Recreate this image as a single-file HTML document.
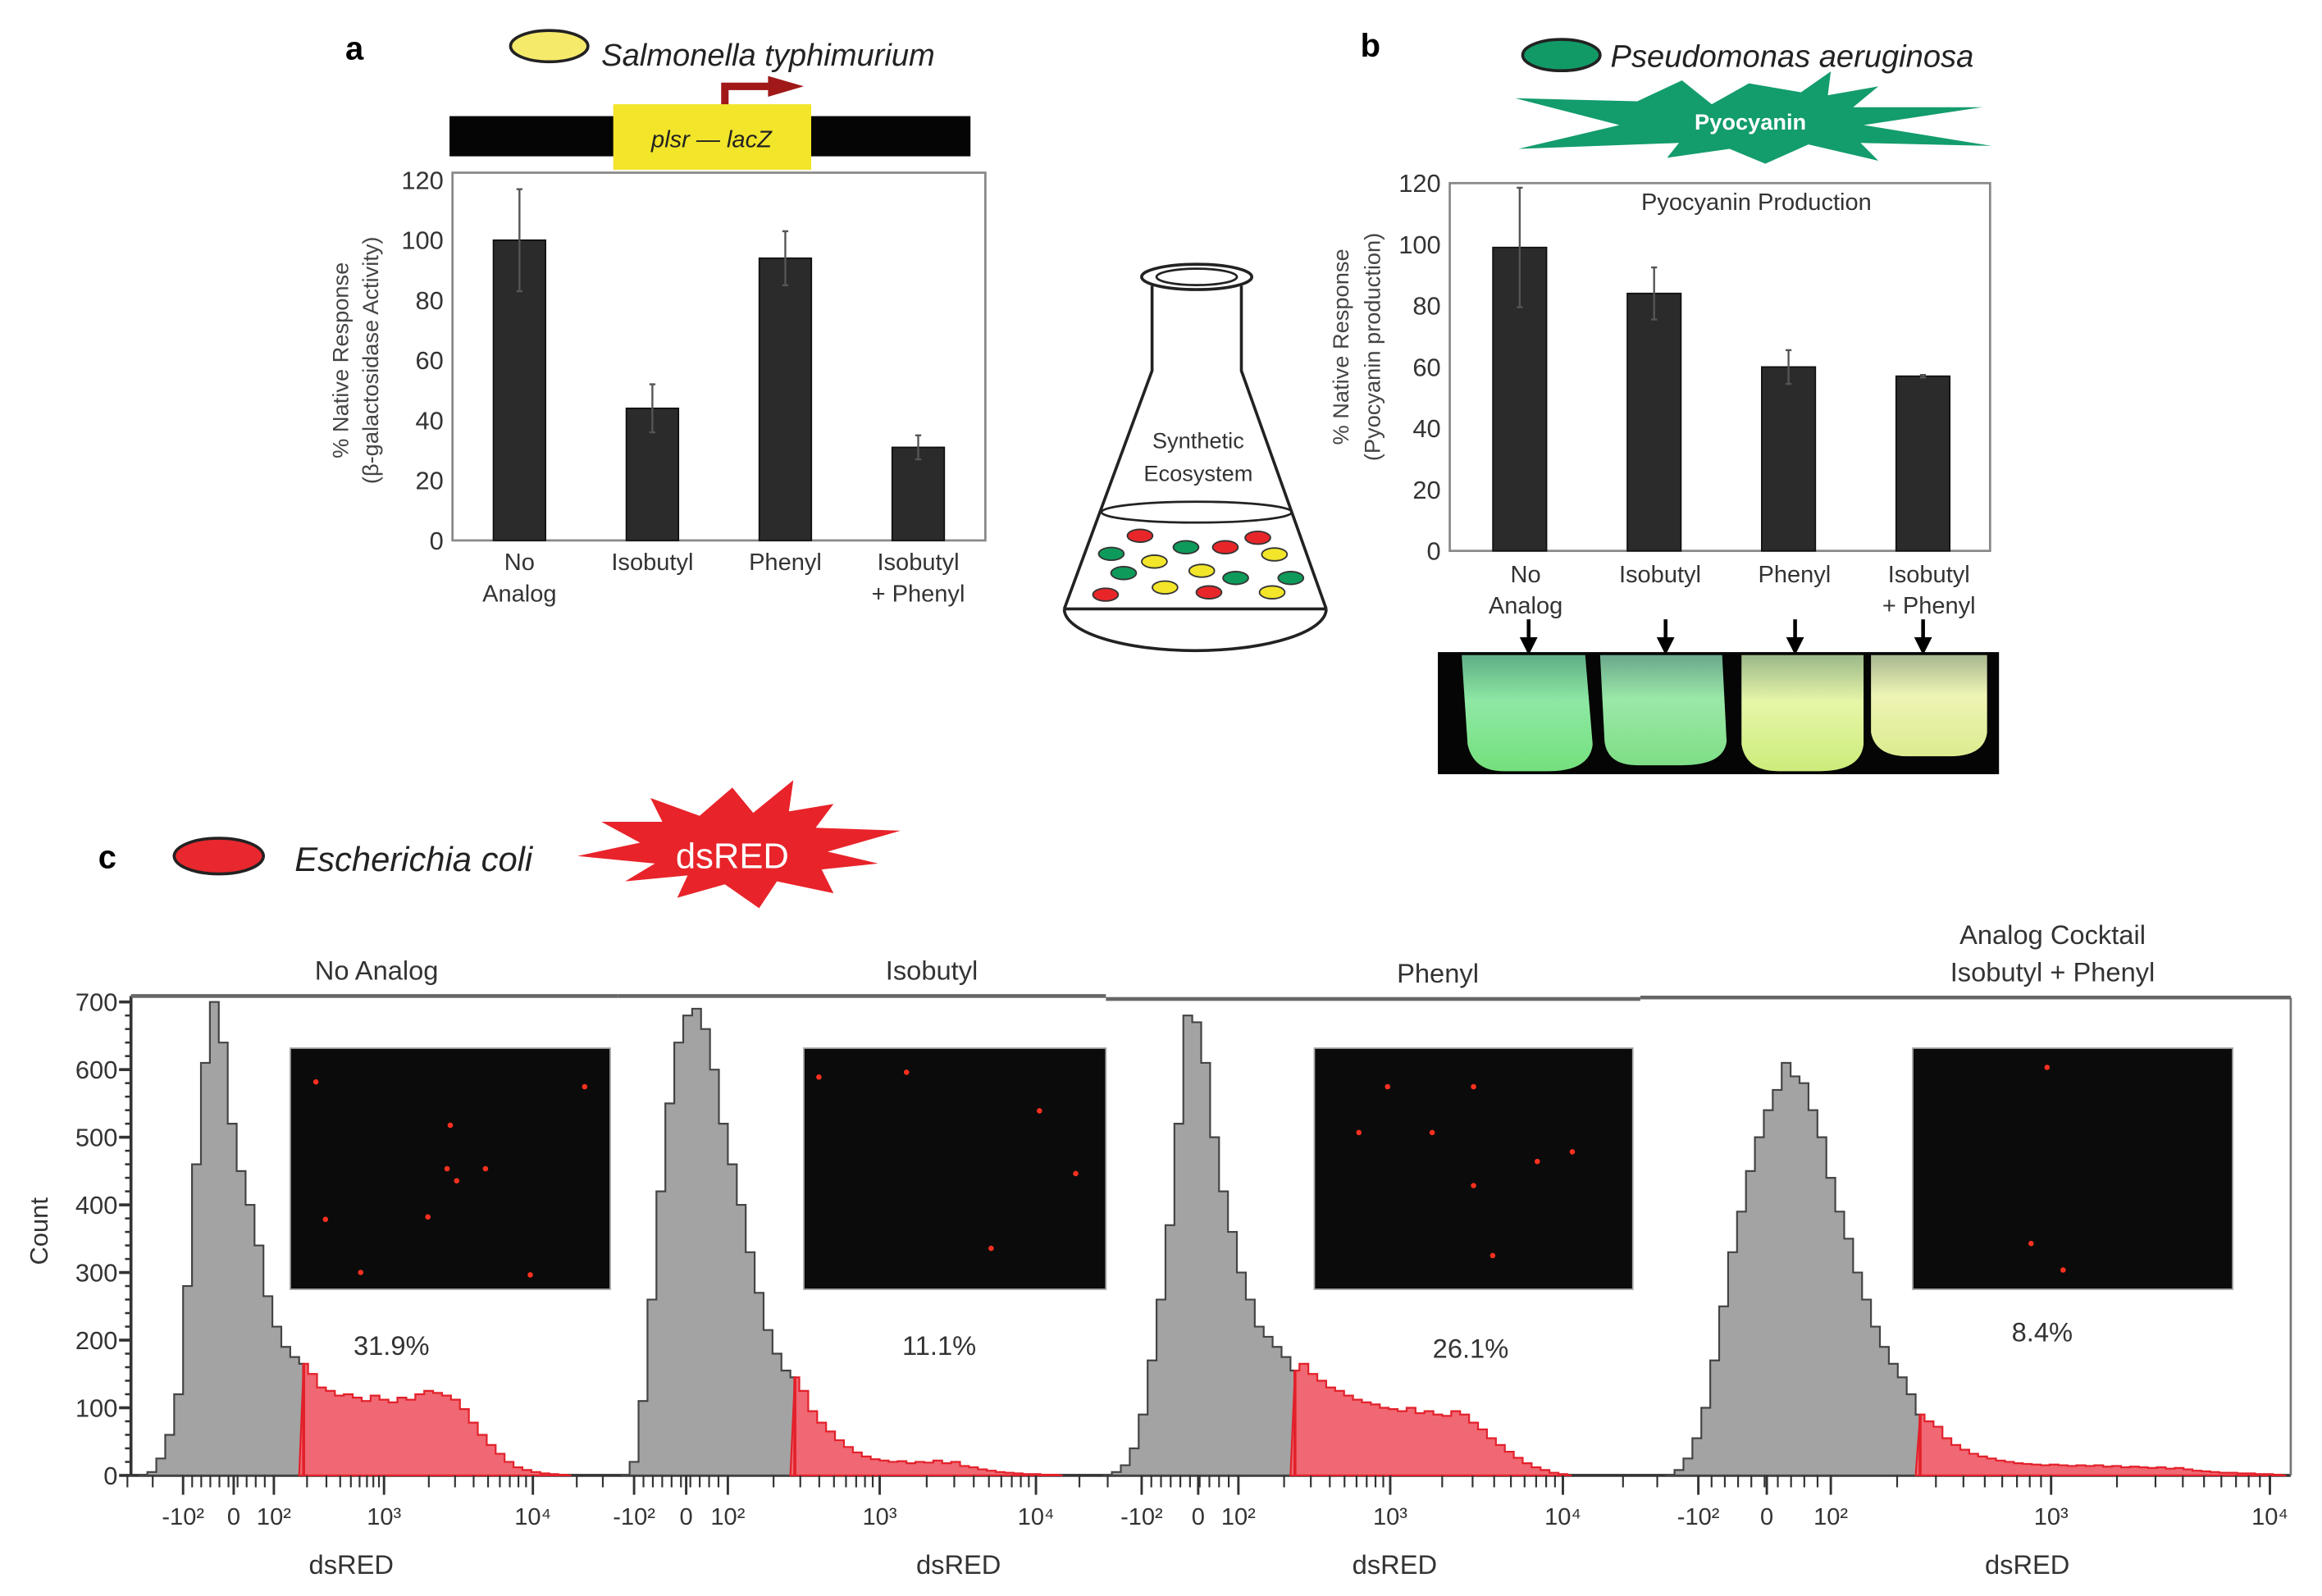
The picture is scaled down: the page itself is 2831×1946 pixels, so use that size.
<!DOCTYPE html>
<html><head><meta charset="utf-8"><title>Synthetic ecosystem figure</title>
<style>
html,body{margin:0;padding:0;background:#fff;}
svg{display:block;font-family:"Liberation Sans",Arial,sans-serif;}
</style></head>
<body>
<svg id="fig" xmlns="http://www.w3.org/2000/svg" width="2831" height="1946" viewBox="0 0 1560 1072" preserveAspectRatio="none">
<rect width="1560" height="1072" fill="#fff"/>

<!-- Panel a header -->
<g>
<text x="232" y="40" font-size="22" font-weight="bold">a</text>
<ellipse cx="369" cy="31" rx="26" ry="10.5" fill="#f5ea6a" stroke="#222" stroke-width="2"/>
<text x="404" y="44" font-size="21" font-style="italic" fill="#222">Salmonella typhimurium</text>
<rect x="302" y="78" width="350" height="27" fill="#050505"/>
<rect x="412" y="70" width="133" height="44" fill="#f2e52a"/>
<text x="478" y="99" font-size="16" font-style="italic" text-anchor="middle" fill="#222">plsr — lacZ</text>
<path d="M487 70 V58 H520" fill="none" stroke="#a01818" stroke-width="5"/>
<polygon points="516,51 540,58 516,65" fill="#a01818"/>
</g>

<g id="chartA"></g>

<!-- Flask -->
<g stroke="#222" stroke-width="2" fill="none">
<ellipse cx="804" cy="186" rx="37" ry="8.5"/>
<ellipse cx="804" cy="186" rx="27" ry="5.5" stroke-width="1.5"/>
<path d="M774 192 V249 L715 409 M834 192 V249 L891 409"/>
<path d="M715 409 A88 28 0 0 0 891 409" />
<line x1="715" y1="409" x2="891" y2="409"/>
<ellipse cx="804" cy="344" rx="64" ry="7" stroke-width="1.5"/>
</g>
<text x="805" y="301" font-size="15" text-anchor="middle" fill="#333">Synthetic</text>
<text x="805" y="323" font-size="15" text-anchor="middle" fill="#333">Ecosystem</text>
<g id="flaskDots"></g>

<!-- Panel b header -->
<g>
<text x="914" y="38" font-size="22" font-weight="bold">b</text>
<ellipse cx="1049" cy="37" rx="26" ry="10.5" fill="#119a66" stroke="#222" stroke-width="2"/>
<text x="1082" y="45" font-size="21" font-style="italic" fill="#222">Pseudomonas aeruginosa</text>
<polygon fill="#139c6c" points="1018,66 1100,68 1130,54 1150,70 1175,56 1210,62 1230,48 1228,64 1262,58 1245,72 1332,72 1252,84 1338,98 1250,96 1262,108 1215,97 1186,110 1162,100 1120,106 1128,96 1020,100 1088,84"/>
<text x="1176" y="87" font-size="15" font-weight="bold" fill="#fff" text-anchor="middle">Pyocyanin</text>
</g>

<g id="chartB"></g>

<!-- culture photo -->
<g>
<rect x="966" y="438" width="377" height="82" fill="#050505"/>
<defs>
<linearGradient id="t1" x1="0" y1="0" x2="0" y2="1"><stop offset="0" stop-color="#5fae86"/><stop offset="0.4" stop-color="#8ee8a4"/><stop offset="1" stop-color="#74e07c"/></linearGradient>
<linearGradient id="t2" x1="0" y1="0" x2="0" y2="1"><stop offset="0" stop-color="#6aa88c"/><stop offset="0.4" stop-color="#9be8a8"/><stop offset="1" stop-color="#7ede86"/></linearGradient>
<linearGradient id="t3" x1="0" y1="0" x2="0" y2="1"><stop offset="0" stop-color="#9cb88a"/><stop offset="0.4" stop-color="#e6f6a8"/><stop offset="1" stop-color="#ccec7a"/></linearGradient>
<linearGradient id="t4" x1="0" y1="0" x2="0" y2="1"><stop offset="0" stop-color="#a8b890"/><stop offset="0.4" stop-color="#eef4b4"/><stop offset="1" stop-color="#dcec90"/></linearGradient>
</defs>
<path d="M982 440 H1065 L1070 500 Q1068 518 1040 518 H1010 Q990 518 986 500 Z" fill="url(#t1)"/>
<path d="M1075 440 H1157 L1160 498 Q1158 514 1130 514 H1100 Q1080 514 1078 498 Z" fill="url(#t2)"/>
<path d="M1170 440 H1252 L1252 500 Q1250 518 1222 518 H1195 Q1173 518 1170 500 Z" fill="url(#t3)"/>
<path d="M1257 440 H1335 L1335 492 Q1333 508 1310 508 H1282 Q1260 508 1257 492 Z" fill="url(#t4)"/>
</g>

<!-- Panel c header -->
<g>
<text x="66" y="583" font-size="22" font-weight="bold">c</text>
<ellipse cx="147" cy="575" rx="30" ry="12" fill="#e8282e" stroke="#222" stroke-width="2"/>
<text x="198" y="585" font-size="23" font-style="italic" fill="#222">Escherichia coli</text>
<polygon fill="#e8232a" points="388,575 430,566 404,552 445,552 437,536 470,548 492,529 506,546 533,524 530,545 560,540 548,556 605,558 556,572 590,580 552,584 560,600 522,592 510,610 487,594 455,603 462,588 420,592 440,580"/>
<text x="492" y="583" font-size="24" fill="#fff" text-anchor="middle">dsRED</text>
</g>

<g id="chartC"></g>

<script>
var NS='http://www.w3.org/2000/svg';
function mk(parent,tag,attrs,txt){var e=document.createElementNS(NS,tag);for(var k in attrs)e.setAttribute(k,attrs[k]);if(txt!==undefined)e.textContent=txt;parent.appendChild(e);return e;}

// ---------- Panel a data ----------
var aCategories=[['No','Analog'],['Isobutyl'],['Phenyl'],['Isobutyl','+ Phenyl']];
var aValues=[100,44,94,31];
var aErrors=[17,8,9,4];
var aTicks=[0,20,40,60,80,100,120];
// ---------- Panel b data ----------
var bCategories=[['No','Analog'],['Isobutyl'],['Phenyl'],['Isobutyl','+ Phenyl']];
var bValues=[99,84,60,57];
var bErrors=[19.5,8.5,5.5,0.4];
var bTicks=[0,20,40,60,80,100,120];

function barChart(g,cfg,cats,vals,errs,ticks,nm){
  var y=function(v){return cfg.y0-(v/120)*(cfg.y0-cfg.y120);};
  var x=function(i){return cfg.xFirst+i*cfg.step;};
  var box=mk(g,'rect',{x:cfg.left,y:cfg.top,width:cfg.right-cfg.left,height:cfg.y0-cfg.top,fill:'none',stroke:'#888','stroke-width':1.5});
  
  
  ticks.forEach(function(t){
    var tl=mk(g,'text',{x:cfg.left-6,y:y(t)+6,'font-size':17,'text-anchor':'end',fill:'#333'},String(t));
    
    
  });
  vals.forEach(function(v,i){
    var r=mk(g,'rect',{x:x(i)-cfg.bw/2,y:y(v),width:cfg.bw,height:y(0)-y(v),fill:'#2b2b2b',stroke:'#111','stroke-width':1});
    
    
    var e=mk(g,'path',{d:'M'+x(i)+' '+y(v+errs[i])+'V'+y(v-errs[i])+'M'+(x(i)-2)+' '+y(v+errs[i])+'h4M'+(x(i)-2)+' '+y(v-errs[i])+'h4',stroke:'#555','stroke-width':1.3,fill:'none'});
    
    
    cats[i].forEach(function(line,j){
      var t=mk(g,'text',{x:x(i)+(cfg.lblDx||0),y:cfg.lblY+j*21,'font-size':16,'text-anchor':'middle',fill:'#333'},line);
      
      
    });
  });
}
barChart(document.getElementById('chartA'),{left:304,right:662,top:116,y0:363,y120:121,xFirst:349,step:89.3,bw:35,lblY:383},aCategories,aValues,aErrors,aTicks,'panel-a');
barChart(document.getElementById('chartB'),{left:974,right:1337,top:123,y0:370,y120:123,xFirst:1021,step:90.3,bw:36,lblY:391,lblDx:4},bCategories,bValues,bErrors,bTicks,'panel-b');

(function(){
  var gA=document.getElementById('chartA');
  var t1=mk(gA,'text',{transform:'translate(234,242) rotate(-90)','font-size':15,'text-anchor':'middle',fill:'#444'},'% Native Response');
  
  
  var t2=mk(gA,'text',{transform:'translate(254,242) rotate(-90)','font-size':15,'text-anchor':'middle',fill:'#444'},'(β-galactosidase Activity)');
  
  
  var gB=document.getElementById('chartB');
  var t3=mk(gB,'text',{transform:'translate(906,233) rotate(-90)','font-size':15,'text-anchor':'middle',fill:'#444'},'% Native Response');
  
  
  var t4=mk(gB,'text',{transform:'translate(927,233) rotate(-90)','font-size':15,'text-anchor':'middle',fill:'#444'},'(Pyocyanin production)');
  
  
  var tt=mk(gB,'text',{x:1180,y:141,'font-size':16,'text-anchor':'middle',fill:'#333'},'Pyocyanin Production');
  
  
  [1027,1119,1206,1292].forEach(function(ax){
    var a=mk(gB,'path',{d:'M'+ax+' 416 V432',stroke:'#000','stroke-width':2.5});
    
    
    mk(gB,'polygon',{points:(ax-6)+',428 '+(ax+6)+',428 '+ax+',440',fill:'#000'});
  });
  // flask dots
  var gD=document.getElementById('flaskDots');
  var cols={r:'#e8262a',g:'#0e9a5a',y:'#f2e52a'};
  [[400,1065,'r'],[810,1072,'r'],[300,1128,'g'],[560,1105,'g'],[697,1105,'r'],[868,1130,'y'],[450,1155,'y'],[615,1187,'y'],[343,1195,'g'],[733,1212,'g'],[925,1212,'g'],[280,1270,'r'],[487,1245,'y'],[640,1262,'r'],[860,1262,'y']].forEach(function(d){
    var e=mk(gD,'ellipse',{cx:688.7+d[0]*0.193,cy:154.3+d[1]*0.193,rx:8.5,ry:4.3,fill:cols[d[2]],stroke:'#333','stroke-width':1});
    
    
  });
})();

// ---------- Panel c data ----------
var cTitles=[['No Analog'],['Isobutyl'],['Phenyl'],['Analog Cocktail','Isobutyl + Phenyl']];
var cPercents=['31.9%','11.1%','26.1%','8.4%'];
var cCountTicks=[0,100,200,300,400,500,600,700];
var cDecadeLabels=['-10²','0','10²','10³','10⁴'];
var cGateBin=[18,19,21,28];
var cCounts1=[0,5,25,60,120,280,460,610,700,640,520,450,400,340,265,220,190,175,165,150,130,125,118,120,115,110,118,112,108,115,112,120,125,122,118,112,98,78,60,45,32,20,12,8,5,3,2,1,0];
var cCounts2=[0,20,110,260,420,550,640,680,690,660,600,520,460,400,330,270,215,180,155,145,125,95,78,65,52,42,34,28,24,22,20,21,18,20,19,22,18,20,14,12,9,7,5,4,3,2,2,1,1,0];
var cCounts3=[0,5,15,40,90,170,260,370,520,680,670,610,500,420,360,300,260,220,205,190,175,155,165,150,140,130,125,118,112,108,105,100,98,95,100,92,95,90,88,95,90,78,68,55,45,35,26,18,12,8,4,2,0];
var cCounts4=[0,8,25,55,100,170,250,330,390,450,500,540,570,610,590,580,540,500,440,390,350,300,260,220,190,165,145,120,90,80,72,55,45,38,32,28,25,22,20,18,17,16,15,16,15,14,15,14,15,13,14,12,13,12,11,12,10,11,9,7,6,5,4,4,3,3,2,2,1,0];
var cCounts=[cCounts1,cCounts2,cCounts3,cCounts4];

(function(){
  var g=document.getElementById('chartC');
  var Y0=991,Y700=673;
  var y=function(c){return Y0-(c/700)*(Y0-Y700);};
  // scale config per panel (layout, not data)
  var P=[
    {l:88,r:415,bin0:96,anch:[123,157,184,258,358],inset:[195,410],tx:253,pc:[263,903],ds:236,line:669},
    {l:415,r:743,bin0:420,anch:[426,461,489,591,696],inset:[540,743],tx:626,pc:[631,903],ds:644,line:669},
    {l:743,r:1102,bin0:744,anch:[767,805,832,934,1050],inset:[883,1097],tx:966,pc:[988,905],ds:937,line:671},
    {l:1102,r:1539,bin0:1122,anch:[1141,1187,1230,1378,1525],inset:[1285,1500],tx:1379,pc:[1372,894],ds:1362,line:670}
  ];
  var BW=6;
  // y axis
  var ax=mk(g,'line',{x1:88,y1:669,x2:88,y2:Y0,stroke:'#333','stroke-width':2});
  
  
  for(var c=0;c<=700;c+=20){mk(g,'line',{x1:c%100===0?80:84,y1:y(c),x2:88,y2:y(c),stroke:'#333','stroke-width':c%100===0?2:1.4});}
  cCountTicks.forEach(function(t){
    var tl=mk(g,'text',{x:79,y:y(t)+6,'font-size':17,'text-anchor':'end',fill:'#333'},String(t));
    
    
  });
  var ct=mk(g,'text',{transform:'translate(32,827) rotate(-90)','font-size':17,'text-anchor':'middle',fill:'#333'},'Count');
  
  
  // baseline
  mk(g,'line',{x1:88,y1:Y0,x2:1539,y2:Y0,stroke:'#333','stroke-width':2});
  mk(g,'line',{x1:1539,y1:670,x2:1539,y2:Y0,stroke:'#777','stroke-width':1.5});

  P.forEach(function(p,k){
    var counts=cCounts[k],gate=cGateBin[k];
    var bx=function(i){return p.bin0+i*BW;};
    // header line
    mk(g,'line',{x1:p.l,y1:p.line,x2:p.r,y2:p.line,stroke:'#666','stroke-width':2.5});
    cTitles[k].forEach(function(s,j){
      var n=cTitles[k].length;
      var t=mk(g,'text',{x:p.tx,y:p.line-11-(n-1-j)*25,'font-size':18,'text-anchor':'middle',fill:'#333'},s);
      
      
    });
    function area(a,b){
      var d='M'+(bx(a)-BW/2)+' '+Y0;
      for(var i=a;i<=b;i++){d+=' L'+(i===a?bx(i):bx(i)-BW/2)+' '+y(counts[i])+' L'+(i===b?bx(i):bx(i)+BW/2)+' '+y(counts[i]);}
      d+=' L'+(bx(b))+' '+Y0+' Z';
      return d;
    }
    var gp=mk(g,'path',{d:area(0,gate),fill:'#a3a3a3',stroke:'#444','stroke-width':1.2});
    
    
    var rp=mk(g,'path',{d:area(gate,counts.length-1),fill:'#ef6873',stroke:'#e3202a','stroke-width':1.2});
    
    
    mk(g,'line',{x1:bx(gate),y1:Y0,x2:bx(gate),y2:y(counts[gate]),stroke:'#e3202a','stroke-width':2});
    // logicle-like ticks
    var a=p.anch;
    function lg(v){ // v in [100,10000]
      if(v<=1000)return a[2]+(a[3]-a[2])*Math.log10(v/100);
      return a[3]+(a[4]-a[3])*Math.log10(v/1000);
    }
    var tk=[];
    for(var m=2;m<=9;m++){tk.push(lg(m*100));tk.push(lg(m*1000));}
    for(var q=0;q<=10;q++){tk.push(a[0]+(a[2]-a[0])*q/10);}
    tk.push(a[0]-(a[1]-a[0])*0.6);tk.push(a[0]-(a[1]-a[0])*1.1);
    tk.forEach(function(tx){mk(g,'line',{x1:tx,y1:Y0,x2:tx,y2:Y0+8,stroke:'#333','stroke-width':1.2});});
    a.forEach(function(tx,j){
      mk(g,'line',{x1:tx,y1:Y0,x2:tx,y2:Y0+13,stroke:'#333','stroke-width':1.6});
      var t=mk(g,'text',{x:tx,y:1024,'font-size':16,'text-anchor':'middle',fill:'#333'},cDecadeLabels[j]);
      
      
    });
    var ds=mk(g,'text',{x:p.ds,y:1057,'font-size':18,'text-anchor':'middle',fill:'#333'},'dsRED');
    
    
    // inset
    var ins=mk(g,'rect',{x:p.inset[0],y:704,width:p.inset[1]-p.inset[0],height:162,fill:'#0b0b0b',stroke:'#aaa','stroke-width':1});
    
    
    var pc=mk(g,'text',{x:p.pc[0],y:p.pc[1]+7,'font-size':18,'text-anchor':'middle',fill:'#333'},cPercents[k]);
    
    
  });
  // fluorescent spots (relative to inset)
  var spots=[
    [[0.08,0.14],[0.92,0.16],[0.5,0.32],[0.49,0.5],[0.61,0.5],[0.52,0.55],[0.11,0.71],[0.43,0.7],[0.22,0.93],[0.75,0.94]],
    [[0.05,0.12],[0.34,0.1],[0.78,0.26],[0.9,0.52],[0.62,0.83]],
    [[0.23,0.16],[0.5,0.16],[0.14,0.35],[0.37,0.35],[0.7,0.47],[0.81,0.43],[0.5,0.57],[0.56,0.86]],
    [[0.42,0.08],[0.37,0.81],[0.47,0.92]]
  ];
  var insetX=[[195,410],[540,743],[883,1097],[1285,1500]];
  spots.forEach(function(s,k){s.forEach(function(pt){
    var w=insetX[k][1]-insetX[k][0];
    var sp=mk(g,'circle',{cx:insetX[k][0]+pt[0]*w,cy:704+pt[1]*162,r:1.8,fill:'#ff3020'});
    
    
  });});
})();
</script>
</svg>
</body></html>
